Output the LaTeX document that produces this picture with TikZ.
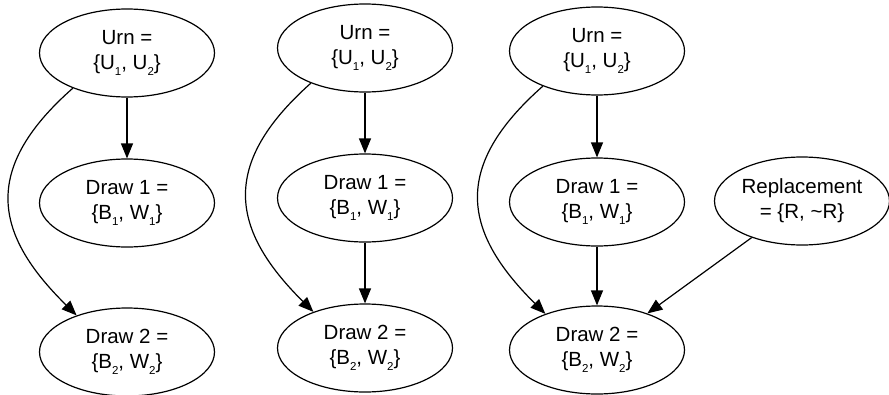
\documentclass[tikz,border=0pt]{standalone}
\usepackage{fontspec}
\setmainfont{Liberation Sans}
\usetikzlibrary{shapes.geometric,arrows.meta}
\newcommand\sbs[1]{\raisebox{-5.5pt}{\fontsize{11.5}{12}\selectfont #1}}
\begin{document}
\begin{tikzpicture}[x=1pt,y=-1pt,
  ell/.style={ellipse,draw,line width=1.2pt,minimum width=175pt,minimum height=88pt,
    inner sep=0pt,align=center,font=\fontsize{20.5}{25}\selectfont},
  arr/.style={line width=1.2pt,-{Triangle[length=15pt,width=12pt]}}]
\useasboundingbox (0,0) rectangle (889,394);
% panel 1
\node[ell] (u1) at (127,53) {Urn =\\\{U\sbs{1}, U\sbs{2}\}};
\node[ell] (da1) at (127,203) {Draw 1 =\\\{B\sbs{1}, W\sbs{1}\}};
\node[ell] (db1) at (127,352) {Draw 2 =\\\{B\sbs{2}, W\sbs{2}\}};
% panel 2
\node[ell] (u2) at (365,48) {Urn =\\\{U\sbs{1}, U\sbs{2}\}};
\node[ell] (da2) at (365,198) {Draw 1 =\\\{B\sbs{1}, W\sbs{1}\}};
\node[ell] (db2) at (365,348) {Draw 2 =\\\{B\sbs{2}, W\sbs{2}\}};
% panel 3
\node[ell] (u3) at (597,51) {Urn =\\\{U\sbs{1}, U\sbs{2}\}};
\node[ell] (da3) at (597,202) {Draw 1 =\\\{B\sbs{1}, W\sbs{1}\}};
\node[ell] (rep) at (802,201) {Replacement\\= \{R, \textasciitilde R\}};
\node[ell] (db3) at (597,350) {Draw 2 =\\\{B\sbs{2}, W\sbs{2}\}};
% connectors
\draw[arr] (u1) -- (da1);
\draw[arr] (u1.213) .. controls (-20,170) and (-5,235) .. (db1.144);
\draw[arr] (u2) -- (da2);
\draw[arr] (da2) -- (db2);
\draw[arr] (u2.213) .. controls (219,165) and (231,230) .. (db2.145);
\draw[arr] (u3) -- (da3);
\draw[arr] (da3) -- (db3);
\draw[arr] (rep) -- (db3);
\draw[arr] (u3.213) .. controls (450,168) and (464,233) .. (db3.145);
\end{tikzpicture}
\end{document}
